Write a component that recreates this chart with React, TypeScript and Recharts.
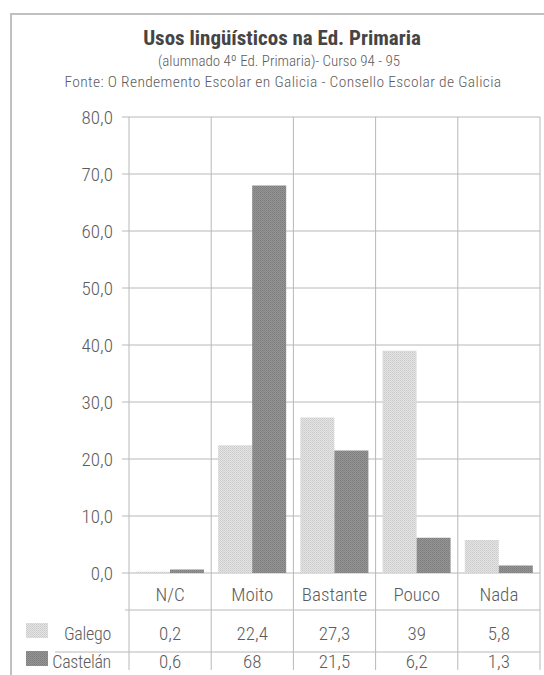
import React from 'react';
import { BarChart, Bar, XAxis, YAxis, CartesianGrid } from 'recharts';

// Usos lingüísticos (4º Ed. Primaria, curso 94-95)
const categories = ['N/C', 'Moito', 'Bastante', 'Pouco', 'Nada'];
const galego = [0.2, 22.4, 27.3, 39, 5.8];
const castelan = [0.6, 68, 21.5, 6.2, 1.3];
const seriesNames = ['Galego', 'Castelán'];
const yTicks = [0, 10, 20, 30, 40, 50, 60, 70, 80];

const data = categories.map((name, i) => ({ name, galego: galego[i], castelan: castelan[i] }));

const FONT = 'Roboto, sans-serif';
const GRID = '#b8b8b8';
const TEXT = '#5c5c5c';
const LIGHT = 'url(#dotsLight)';
const DARK = 'url(#dotsDark)';

// layout of the plot and the data table under it
const PLOT_TOP = 117;
const PLOT_BOTTOM = 573;
const HEADER_LINE = 610;
const ROW_LINE = 652;
const TABLE_BOTTOM = 670;

const labelStyle: React.CSSProperties = {
  fontFamily: FONT,
  fontStretch: 'condensed',
  fontWeight: 300,
  fontSize: 19,
  fill: TEXT,
};
const rowHeadStyle: React.CSSProperties = { ...labelStyle, fontSize: 18, letterSpacing: -0.3 };

const fmtAxis = (v: number) => v.toFixed(1).replace('.', ',');
const fmtCell = (v: number) => String(v).replace('.', ',');

function ValueTick(props: any) {
  const { x, y, payload } = props;
  return (
    <text x={x} y={y} dy="0.36em" textAnchor="end" style={labelStyle}>
      {fmtAxis(payload.value)}
    </text>
  );
}

// Each category tick draws its own column of the table (label, values, borders)
function TableTick(props: any) {
  const { x, payload, index } = props;
  const half = payload?.offset || 41;
  const left = x - half;
  const right = x + half;
  const last = index === categories.length - 1;

  return (
    <g>
      <line x1={left} x2={left} y1={PLOT_TOP} y2={TABLE_BOTTOM} stroke={GRID} />
      {last && <line x1={right} x2={right} y1={PLOT_TOP} y2={TABLE_BOTTOM} stroke={GRID} />}
      <line x1={index === 0 ? 125 : left} x2={right} y1={HEADER_LINE} y2={HEADER_LINE} stroke={GRID} />
      <line x1={index === 0 ? 55 : left} x2={right} y1={ROW_LINE} y2={ROW_LINE} stroke={GRID} />
      <text x={x} y={601} textAnchor="middle" style={labelStyle}>{payload.value}</text>
      <text x={x} y={640} textAnchor="middle" style={labelStyle}>{fmtCell(galego[index])}</text>
      <text x={x} y={668} textAnchor="middle" style={labelStyle}>{fmtCell(castelan[index])}</text>
      {index === 0 && (
        <g>
          <rect x={26} y={623} width={22} height={15} fill={LIGHT} />
          <text x={111} y={640} textAnchor="end" style={rowHeadStyle}>{seriesNames[0]}</text>
          <rect x={26} y={651} width={22} height={15} fill={DARK} />
          <text x={111} y={668} textAnchor="end" style={rowHeadStyle}>{seriesNames[1]}</text>
        </g>
      )}
    </g>
  );
}

// halftone-like fills for the two series
function Patterns() {
  return (
    <svg width={0} height={0} style={{ position: 'absolute' }}>
      <defs>
        <pattern id="dotsLight" width={2} height={2} patternUnits="userSpaceOnUse">
          <rect width={2} height={2} fill="#e4e4e4" />
          <rect width={1} height={1} fill="#cbcbcb" />
          <rect x={1} y={1} width={1} height={1} fill="#d2d2d2" />
        </pattern>
        <pattern id="dotsDark" width={2} height={2} patternUnits="userSpaceOnUse">
          <rect width={2} height={2} fill="#959595" />
          <rect width={1} height={1} fill="#7c7c7c" />
          <rect x={1} y={1} width={1} height={1} fill="#858585" />
        </pattern>
      </defs>
    </svg>
  );
}

const headStyle: React.CSSProperties = {
  position: 'absolute',
  left: 10,
  width: 534,
  textAlign: 'center',
  fontFamily: FONT,
  fontStretch: 'condensed',
  color: TEXT,
  whiteSpace: 'nowrap',
};

export default function App() {
  return (
    <div style={{ position: 'absolute', left: 0, top: 0, width: 544, height: 675, background: '#fff' }}>
      <Patterns />
      <div
        style={{
          position: 'absolute', left: 10, top: 13, width: 534, height: 662,
          borderTop: '2px solid #c0c0c0', borderLeft: '2px solid #c0c0c0', boxSizing: 'border-box',
        }}
      />
      <div style={{ ...headStyle, top: 28, left: 15, fontSize: 21, lineHeight: '21px', fontWeight: 700, color: '#454545' }}>
        Usos lingüísticos na Ed. Primaria
      </div>
      <div style={{ ...headStyle, top: 54, left: 12, fontSize: 15, lineHeight: '15px', fontWeight: 300 }}>
        (alumnado 4º Ed. Primaria)- Curso 94 - 95
      </div>
      <div style={{ ...headStyle, top: 74, left: 16, fontSize: 15.5, lineHeight: '16px', fontWeight: 300, letterSpacing: 0.35 }}>
        Fonte: O Rendemento Escolar en Galicia - Consello Escolar de Galicia
      </div>
      <div style={{ position: 'absolute', left: 0, top: 0 }}>
        <BarChart
          width={544}
          height={675}
          data={data}
          margin={{ top: PLOT_TOP, right: 4, left: 69, bottom: 5 }}
          barCategoryGap="8.5%"
          barGap={0}
        >
          <CartesianGrid vertical={false} stroke={GRID} />
          <XAxis
            dataKey="name"
            height={675 - 5 - PLOT_BOTTOM}
            axisLine={false}
            tickLine={false}
            tickSize={0}
            tickMargin={0}
            interval={0}
            tick={<TableTick />}
          />
          <YAxis
            width={60}
            domain={[0, 80]}
            ticks={yTicks}
            interval={0}
            axisLine={false}
            tickSize={7}
            tickMargin={9}
            tickLine={{ stroke: GRID }}
            tick={<ValueTick />}
          />
          <Bar dataKey="galego" name={seriesNames[0]} fill={LIGHT} isAnimationActive={false} />
          <Bar dataKey="castelan" name={seriesNames[1]} fill={DARK} isAnimationActive={false} />
        </BarChart>
      </div>
    </div>
  );
}
